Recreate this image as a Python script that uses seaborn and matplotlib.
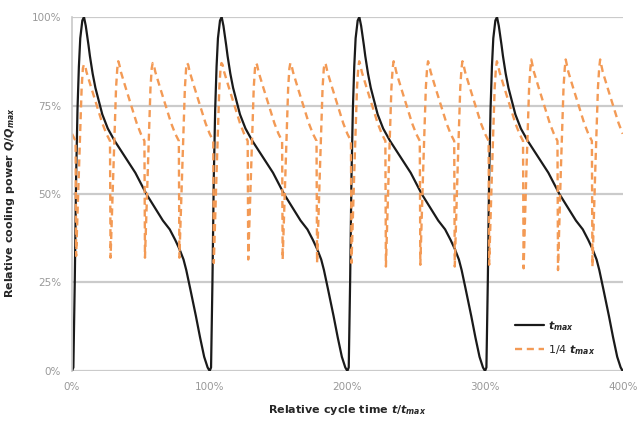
import numpy as np
import pandas as pd
import matplotlib
matplotlib.use("Agg")
import matplotlib.pyplot as plt
import seaborn as sns

# One full cycle of the black curve (t in % of t_max, Q in % of Q_max)
cycle_t = [0, 1, 2, 3, 4, 5, 6, 7.5, 8.7, 10, 12, 13, 15, 17, 19, 22, 26, 31, 36,
           41, 46, 50, 54, 58, 62, 66, 71, 75, 78, 81, 83, 86, 90, 93, 96, 98.5, 100]
cycle_q = [0, 1, 25, 55, 74, 86, 94, 99, 100, 97.5, 92, 89, 84, 80, 77, 72.5, 68.5, 65, 62,
           59, 56, 53, 50, 47.5, 45, 42.5, 40, 37, 34.5, 31.5, 28.5, 23, 15.5, 9.5, 4, 1, 0]
n_cycles = 4

# Quarter-length cycle (dashed curve): shape within one 25 % period
# None = per-cycle bottom / peak read separately below
quarter_t = [0, 2.6, 3.0, 5, 7, 7.9, 8.6, 9.4, 10.5, 14, 18, 22]
quarter_q = [67, 65, None, 56, 80, 85.5, None, 86.5, 84.5, 80, 75, 70]
quarter_bottom = [32.5, 32, 32, 32, 30.5, 31.5, 31.5, 30.5, 30.5, 29.5, 30, 29.5, 30, 29, 28.5, 29.5]
quarter_peak = [86.5, 87.5, 87, 87, 87, 87, 87, 87, 87.5, 87.5, 87.5, 87.5, 87.5, 88, 88, 88]
quarter_end = 67

# build the series
full_t, full_q = [], []
for k in range(n_cycles):
    full_t += [t + 100 * k for t in cycle_t]
    full_q += cycle_q
df_full = pd.DataFrame({"t": full_t, "q": full_q})

qt_t, qt_q = [], []
for k, (b, p) in enumerate(zip(quarter_bottom, quarter_peak)):
    for t, q in zip(quarter_t, quarter_q):
        qt_t.append(t + 25 * k)
        if t == 3.0:
            qt_q.append(b)
        elif t == 8.6:
            qt_q.append(p)
        else:
            qt_q.append(min(q, p))
qt_t.append(400)
qt_q.append(quarter_end)
df_quarter = pd.DataFrame({"t": qt_t, "q": qt_q})

sns.set_style("white")
plt.rcParams["font.family"] = ["DejaVu Sans"]
plt.rcParams["mathtext.fontset"] = "custom"
plt.rcParams["mathtext.it"] = "DejaVu Sans:italic:bold"
plt.rcParams["mathtext.rm"] = "DejaVu Sans:bold"
plt.rcParams["mathtext.bf"] = "DejaVu Sans:bold"

fig, ax = plt.subplots(figsize=(6.4, 4.21), dpi=100)
fig.subplots_adjust(left=0.1125, right=0.973, top=0.9596, bottom=0.1188)

for y in [0, 25, 50, 75, 100]:
    ax.axhline(y, color="#cbcbcb", lw=1.6, zorder=0)

sns.lineplot(data=df_full, x="t", y="q", color="#1a1a1a", lw=1.6,
             estimator=None, sort=False, label=r"$t_{max}$", ax=ax)
sns.lineplot(data=df_quarter, x="t", y="q", color="#f39a55", lw=1.7,
             estimator=None, sort=False, label=r"1/4 $t_{max}$", ax=ax)
ax.lines[-1].set_dashes([3, 2])

ax.set_xlim(0, 400)
ax.set_ylim(0, 100)
ax.set_xticks([0, 100, 200, 300, 400])
ax.set_xticklabels(["0%", "100%", "200%", "300%", "400%"])
ax.set_yticks([0, 25, 50, 75, 100])
ax.set_yticklabels(["0%", "25%", "50%", "75%", "100%"])
ax.tick_params(length=0, labelsize=7.5, labelcolor="#999999", pad=8)

for s in ["top", "right", "bottom"]:
    ax.spines[s].set_visible(False)
ax.spines["left"].set_color("#c8c8c8")
ax.spines["left"].set_linewidth(1.2)

ax.set_xlabel(r"Relative cycle time $t/t_{max}$", fontsize=8, fontweight="bold", labelpad=8)
ax.set_ylabel(r"Relative cooling power $Q/Q_{max}$", fontsize=8, fontweight="bold")
ax.yaxis.set_label_coords(-0.1, 0.477)

leg = ax.legend(loc="center left", bbox_to_anchor=(0.786, 0.093), frameon=False,
                fontsize=8, handlelength=2.6, handletextpad=0.4, labelspacing=0.9)

fig.savefig("out.png", dpi=100)
